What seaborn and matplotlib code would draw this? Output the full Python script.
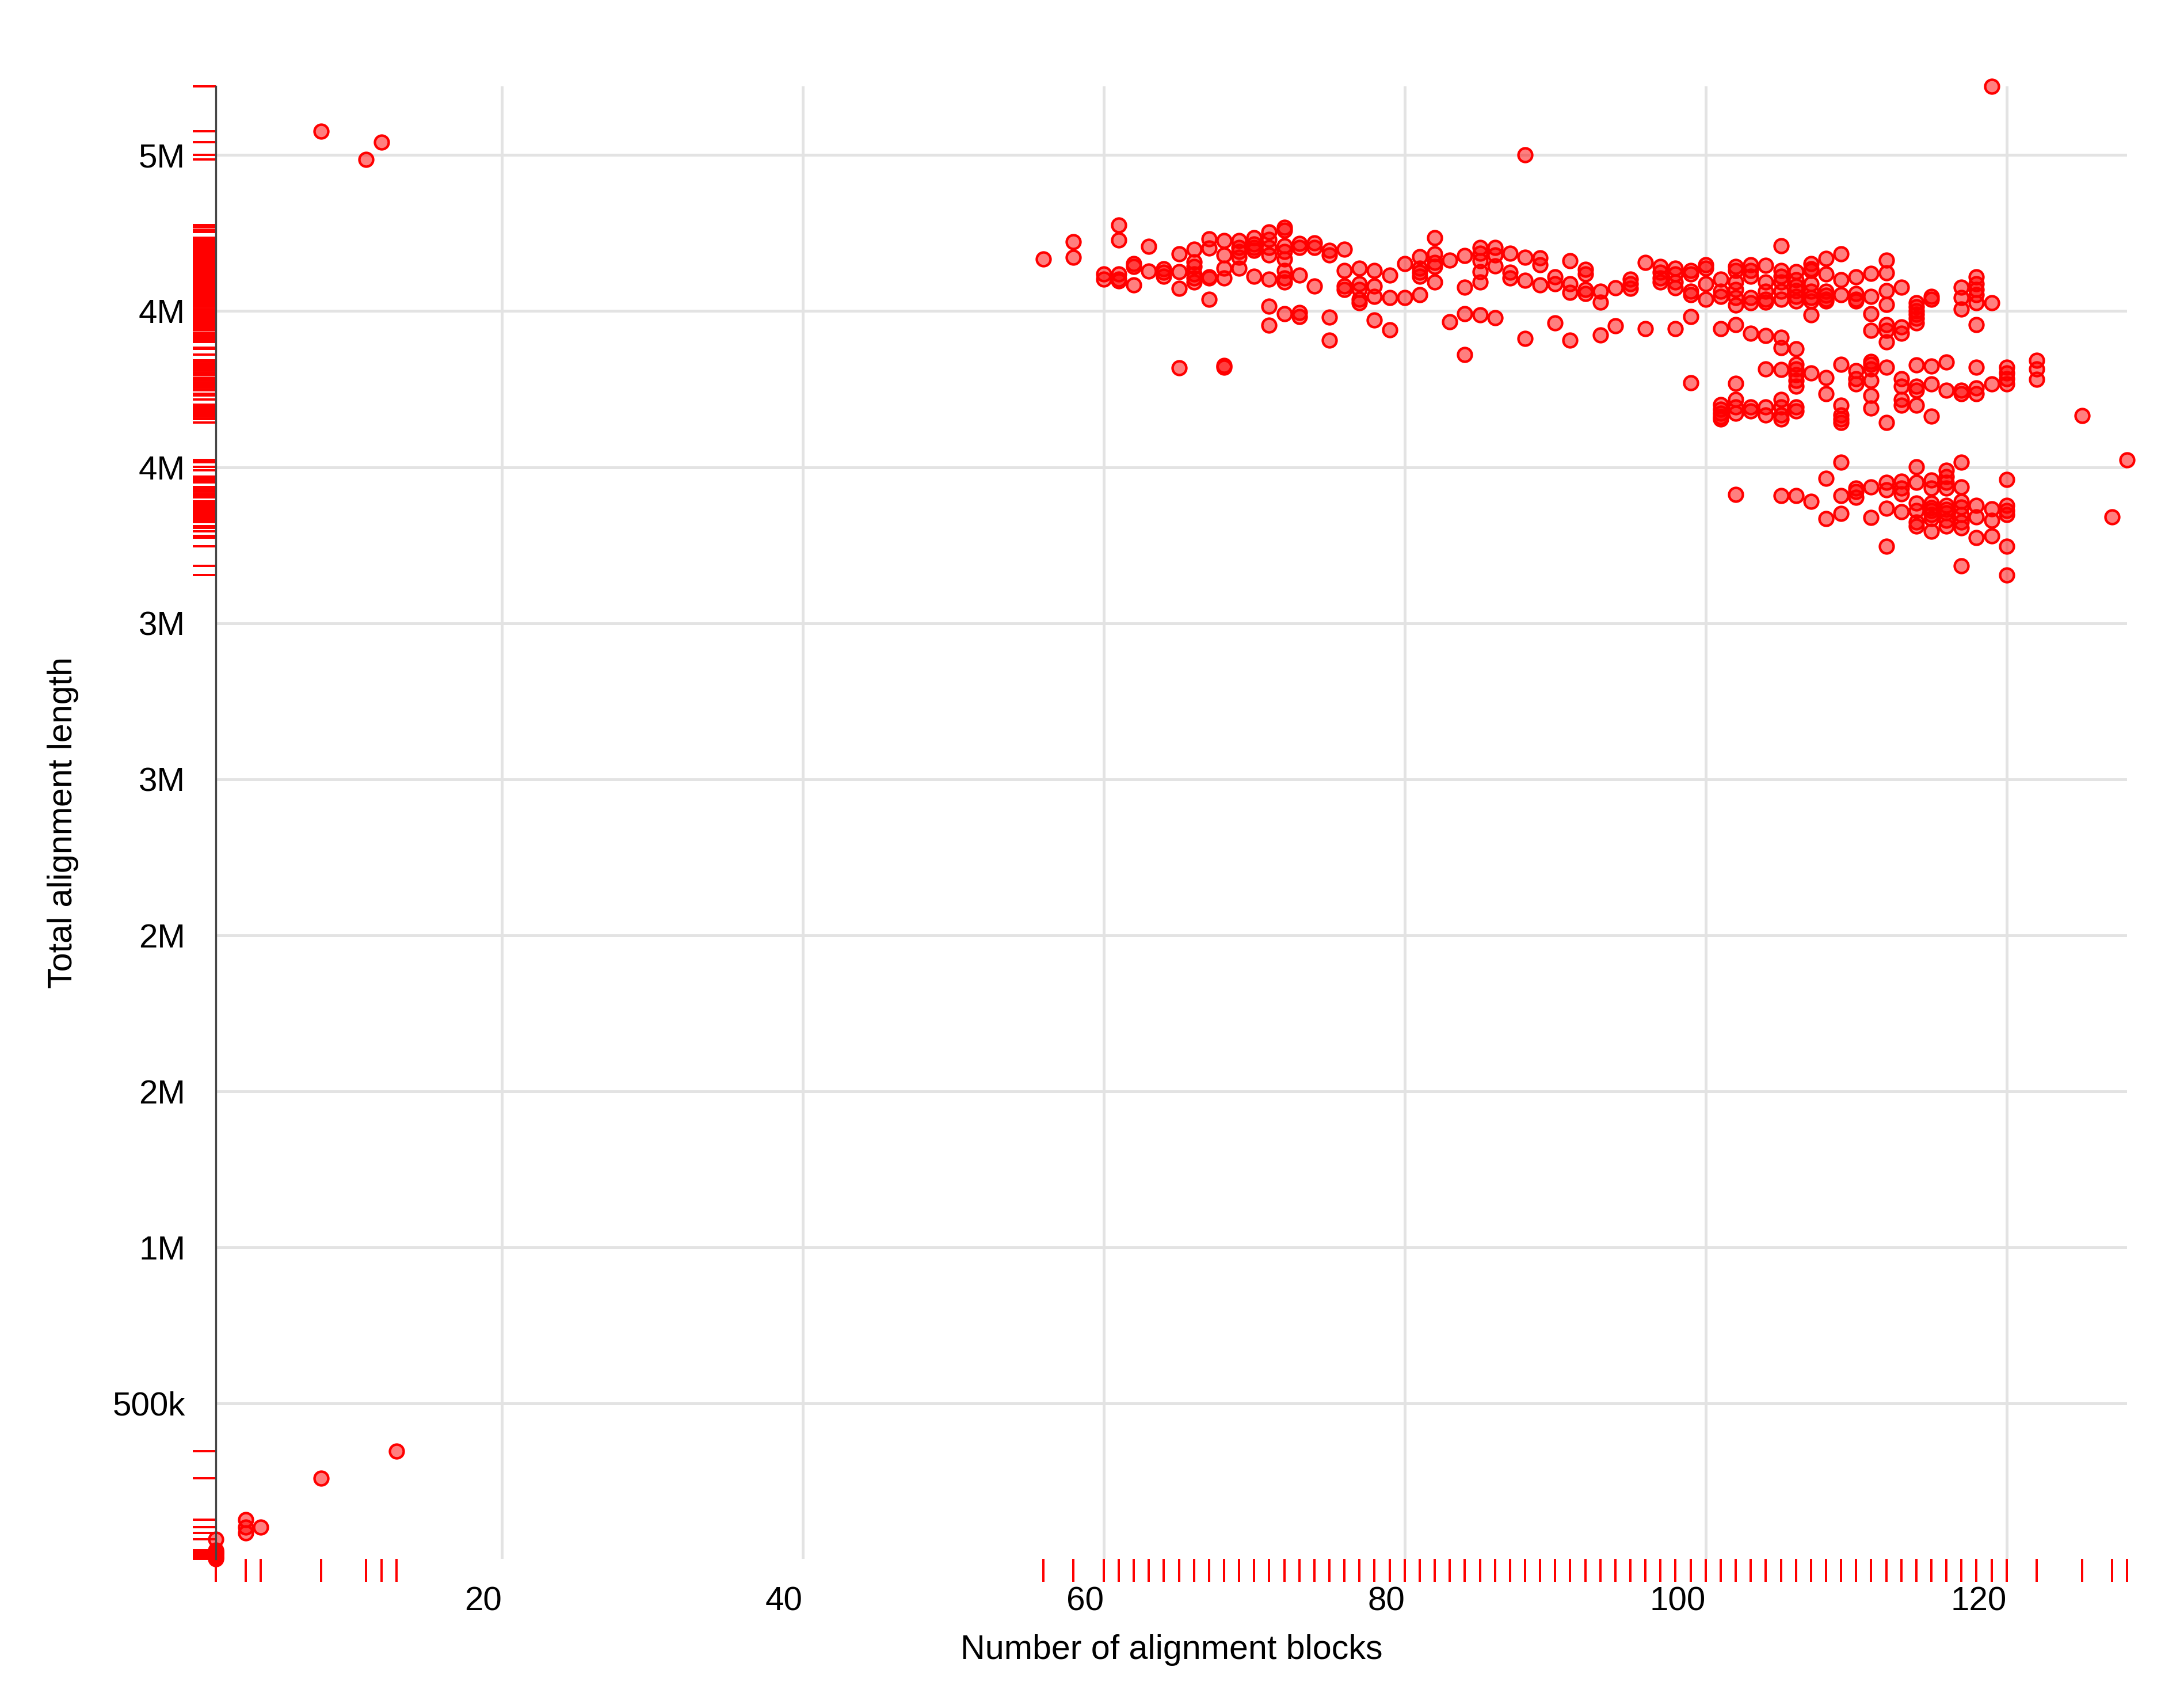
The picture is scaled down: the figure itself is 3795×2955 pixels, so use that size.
import numpy as np
import pandas as pd
import seaborn as sns
import matplotlib.pyplot as plt

# Genomes with very few alignment blocks (lengths in Mb)
low_blocks = [1, 1, 1, 1, 1, 1, 1, 1, 1, 3, 3, 3, 4, 8, 13]
low_length_mb = [0.002, 0.006, 0.010, 0.014, 0.018, 0.022, 0.026, 0.029, 0.065,
                 0.128, 0.104, 0.085, 0.104, 0.261, 0.346]

# Isolated points above the main band
outlier_blocks = [8, 11, 12, 88, 119]
outlier_length_mb = [4.576, 4.486, 4.541, 4.500, 4.720]

# Main cloud: block count -> total lengths (Mb) seen at that count
main_blocks = list(range(60, 121)) + [56, 58, 122, 125, 127, 128]
main_length_mb = [
    [4.118, 4.103],                                          # 60
    [4.276, 4.227, 4.118, 4.103, 4.097],                     # 61
    [4.152, 4.143, 4.084],                                   # 62
    [4.208, 4.129],                                          # 63
    [4.136, 4.124, 4.112],                                   # 64
    [4.184, 4.127, 4.072, 3.819],                            # 65
    [4.198, 4.158, 4.143, 4.118, 4.106, 4.093],              # 66
    [4.232, 4.201, 4.110, 4.106, 4.037],                     # 67
    [4.226, 4.180, 4.137, 4.106, 3.825, 3.820],              # 68
    [4.226, 4.204, 4.190, 4.173, 4.137],                     # 69
    [4.235, 4.215, 4.204, 4.195, 4.112],                     # 70
    [4.253, 4.229, 4.204, 4.180, 4.103, 4.015, 3.954],       # 71
    [4.269, 4.259, 4.210, 4.190, 4.167, 4.130, 4.106, 4.093, 3.992],  # 72
    [4.216, 4.204, 4.115, 3.995, 3.983],                     # 73
    [4.219, 4.204, 4.081],                                   # 74
    [4.195, 4.180, 3.980, 3.907],                            # 75
    [4.198, 4.130, 4.081, 4.069],                            # 76
    [4.137, 4.087, 4.069, 4.038, 4.026],                     # 77
    [4.130, 4.081, 4.047, 3.972],                            # 78
    [4.115, 4.044, 3.940],                                   # 79
    [4.152, 4.044],                                          # 80
    [4.175, 4.137, 4.124, 4.112, 4.053],                     # 81
    [4.235, 4.183, 4.155, 4.143, 4.093],                     # 82
    [4.164, 3.966],                                          # 83
    [4.177, 4.076, 3.992, 3.861],                            # 84
    [4.204, 4.186, 4.161, 4.127, 4.093, 3.988],              # 85
    [4.204, 4.180, 4.145, 3.978],                            # 86
    [4.186, 4.124, 4.106],                                   # 87
    [4.172, 4.098, 3.912],                                   # 88
    [4.170, 4.149, 4.083],                                   # 89
    [4.109, 4.087, 3.963],                                   # 90
    [4.161, 4.087, 4.060, 3.907],                            # 91
    [4.133, 4.118, 4.069, 4.057],                            # 92
    [4.063, 4.029, 3.924],                                   # 93
    [4.075, 3.952],                                          # 94
    [4.103, 4.087, 4.072],                                   # 95
    [4.155, 3.943],                                          # 96
    [4.143, 4.124, 4.106, 4.093],                            # 97
    [4.137, 4.118, 4.093, 4.075, 3.943],                     # 98
    [4.130, 4.118, 4.063, 4.053, 3.982, 3.771],              # 99
    [4.149, 4.137, 4.087, 4.038],                            # 100
    [4.103, 4.063, 4.047, 3.943, 3.700, 3.685, 3.672, 3.662, 3.655],  # 101
    [4.143, 4.130, 4.093, 4.069, 4.044, 4.020, 3.956, 3.769, 3.716, 3.692,
     3.673, 3.413],                                          # 102
    [4.149, 4.130, 4.112, 4.044, 4.026, 3.929, 3.692, 3.680],  # 103
    [4.146, 4.093, 4.063, 4.038, 4.029, 3.922, 3.815, 3.692, 3.667],  # 104
    [4.210, 4.130, 4.112, 4.093, 4.063, 4.038, 3.916, 3.882, 3.812, 3.716,
     3.692, 3.667, 3.655, 3.409],                            # 105
    [4.127, 4.100, 4.081, 4.066, 4.047, 4.032, 3.879, 3.830, 3.815, 3.796,
     3.778, 3.760, 3.692, 3.680, 3.409],                     # 106
    [4.152, 4.136, 4.130, 4.087, 4.063, 4.044, 4.032, 3.988, 3.802, 3.390],  # 107
    [4.169, 4.118, 4.063, 4.050, 4.038, 4.032, 3.787, 3.735, 3.464, 3.335],  # 108
    [4.183, 4.101, 4.052, 3.830, 3.698, 3.667, 3.655, 3.643, 3.516, 3.409,
     3.351],                                                 # 109
    [4.110, 4.057, 4.038, 4.032, 3.809, 3.784, 3.766, 3.433, 3.421, 3.403],  # 110
    [4.121, 4.047, 3.992, 3.938, 3.839, 3.830, 3.815, 3.778, 3.729, 3.689,
     3.436, 3.338],                                          # 111
    [4.163, 4.123, 4.066, 4.021, 3.956, 3.938, 3.901, 3.821, 3.643, 3.452,
     3.427, 3.369, 3.246],                                   # 112
    [4.077, 3.950, 3.929, 3.784, 3.760, 3.716, 3.698, 3.455, 3.433, 3.415,
     3.357],                                                 # 113
    [4.026, 4.013, 4.001, 3.989, 3.977, 3.962, 3.827, 3.760, 3.747, 3.698,
     3.501, 3.452, 3.384, 3.360, 3.323, 3.311],              # 114
    [4.047, 4.038, 3.824, 3.766, 3.664, 3.458, 3.433, 3.384, 3.370, 3.360,
     3.347, 3.335, 3.295],                                   # 115
    [3.836, 3.747, 3.489, 3.470, 3.452, 3.433, 3.378, 3.365, 3.354, 3.329,
     3.311],                                                 # 116
    [4.076, 4.044, 4.007, 3.747, 3.735, 3.516, 3.436, 3.390, 3.372, 3.347,
     3.323, 3.305, 3.184],                                   # 117
    [4.110, 4.087, 4.069, 4.053, 4.026, 3.956, 3.821, 3.753, 3.735, 3.378,
     3.341, 3.274],                                          # 118
    [4.027, 3.766, 3.366, 3.329, 3.280],                     # 119
    [3.821, 3.802, 3.784, 3.766, 3.461, 3.378, 3.360, 3.347, 3.246, 3.154],  # 120
    [4.166],                                                 # 56
    [4.223, 4.172],                                          # 58
    [3.842, 3.815, 3.781],                                   # 122
    [3.666],                                                 # 125
    [3.341],                                                 # 127
    [3.523],                                                 # 128
]

x_ticks = [20, 40, 60, 80, 100, 120]
y_ticks_mb = [0.5, 1.0, 1.5, 2.0, 2.5, 3.0, 3.5, 4.0, 4.5]
y_tick_labels = ["500k", "1M", "2M", "2M", "3M", "3M", "4M", "4M", "5M"]

# Build the long table
xs = list(low_blocks) + list(outlier_blocks)
ys = list(low_length_mb) + list(outlier_length_mb)
for b, vals in zip(main_blocks, main_length_mb):
    xs += [b] * len(vals)
    ys += vals
df = pd.DataFrame({"blocks": xs, "length": np.array(ys) * 1e6})

sns.set_theme(style="whitegrid")
plt.rcParams['font.family'] = ['Liberation Sans', 'DejaVu Sans']

fig = plt.figure(figsize=(12.65, 9.85), dpi=300)
ax = fig.add_axes([0.0988, 0.0836, 0.9739 - 0.0988, 0.9492 - 0.0836])

sns.scatterplot(data=df, x="blocks", y="length", s=33,
                facecolor=(1, 0, 0, 0.5), edgecolor="red", linewidth=1.05,
                clip_on=False, ax=ax)
sns.rugplot(data=df, x="blocks", height=-0.0156, color="red", linewidth=0.95,
            clip_on=False, expand_margins=False, ax=ax)
sns.rugplot(data=df, y="length", height=-0.012, color="red", linewidth=0.95,
            clip_on=False, expand_margins=False, ax=ax)

ax.set_xlim(df["blocks"].min(), df["blocks"].max())
ax.set_ylim(df["length"].min(), df["length"].max())

ax.set_xticks(x_ticks)
ax.set_xticklabels([str(t) for t in x_ticks], ha="right")
ax.set_yticks([v * 1e6 for v in y_ticks_mb])
ax.set_yticklabels(y_tick_labels)

ax.grid(True, color="#e3e3e3", linewidth=1.2)
for side in ["top", "right", "bottom"]:
    ax.spines[side].set_visible(False)
ax.spines["left"].set_color("#444444")
ax.spines["left"].set_linewidth(0.8)

ax.tick_params(axis="x", length=0, pad=11.5, labelsize=14, labelcolor="black")
ax.tick_params(axis="y", length=0, pad=12.7, labelsize=14, labelcolor="black")

ax.set_xlabel("Number of alignment blocks", fontsize=14.2, color="black", labelpad=7)
ax.set_ylabel("Total alignment length", fontsize=14.2, color="black", labelpad=14)

fig.savefig("out.png", dpi=300, facecolor="white")
